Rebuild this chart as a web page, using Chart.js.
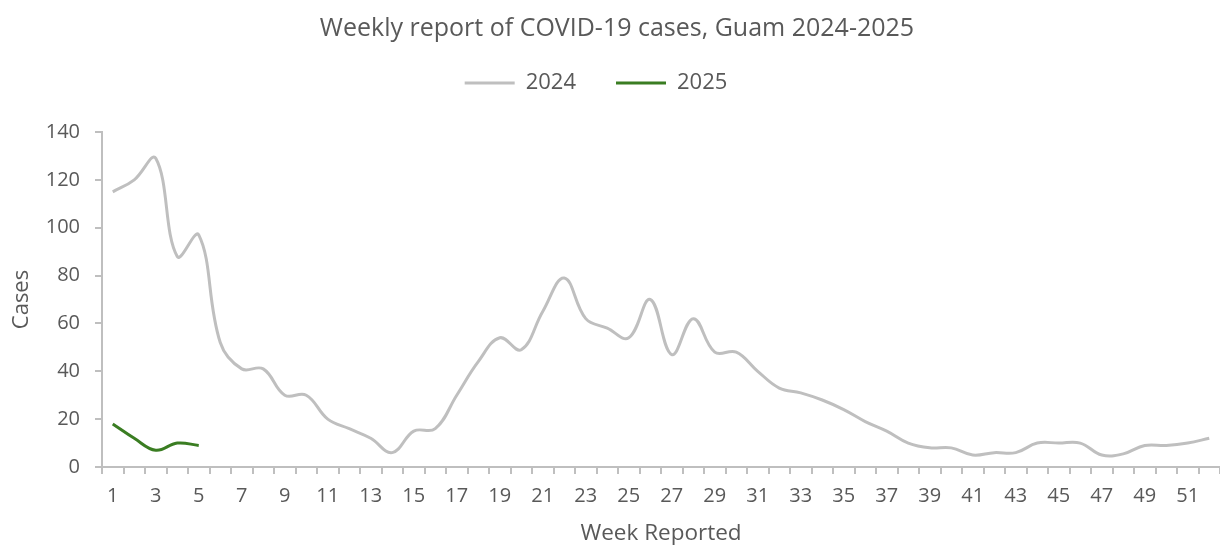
<!DOCTYPE html>
<html>
<head>
<meta charset="utf-8">
<script src="https://cdn.jsdelivr.net/npm/chart.js@4"></script>
<style>
  body { margin: 0; background: #ffffff; }
  #wrap { width: 1220px; height: 550px; }
</style>
</head>
<body>
<div id="wrap"><canvas id="covidChart"></canvas></div>
<script>
'use strict';
// data
var weeks = [];
for (var w = 1; w <= 52; w++) { weeks.push(String(w)); }
var cases2024 = [115, 120, 129, 88, 97, 52, 41, 41, 30, 30,
  20, 16, 12, 6, 15, 16, 30, 44, 54, 49,
  65, 79, 62, 58, 54, 70, 47, 62, 48, 48,
  40, 33, 31, 28, 24, 19, 15, 10, 8, 8,
  5, 6, 6, 10, 10, 10, 5, 5.5, 9, 9,
  10, 12];
var cases2025 = [18, 12, 7, 10, 9];
var yTicks = [0, 20, 40, 60, 80, 100, 120, 140];

var textColor = '#595959';
var axisColor = '#bfbfbf';
var fontName = "'Open Sans', 'Noto Sans', sans-serif";

Chart.defaults.font.family = fontName;
Chart.defaults.color = textColor;

// extra room under the legend, nudge legend left and title right
var legendMargin = {
  id: 'legendMargin',
  beforeInit: function(chart) {
    var origFit = chart.legend.fit;
    chart.legend.fit = function() {
      origFit.bind(chart.legend)();
      this.height += 28;
    };
  },
  afterLayout: function(chart) {
    chart.legend.left -= 14;
    chart.legend.right -= 14;
    chart.titleBlock.left += 7;
    chart.titleBlock.right += 7;
  }
};

var ctx = document.getElementById('covidChart');
var myChart = new Chart(ctx, {
  type: 'line',
  data: {
    labels: weeks,
    datasets: [{
      label: '2024',
      data: cases2024,
      borderColor: '#bfbfbf',
      backgroundColor: '#bfbfbf',
      borderWidth: 3,
      pointRadius: 0,
      pointStyle: 'line',
      tension: 0.4
    }, {
      label: '2025',
      data: cases2025,
      borderColor: '#3a7d22',
      backgroundColor: '#3a7d22',
      borderWidth: 3,
      pointRadius: 0,
      pointStyle: 'line',
      tension: 0.4
    }]
  },
  plugins: [legendMargin],
  options: {
    responsive: true,
    maintainAspectRatio: false,
    animation: false,
    layout: { padding: { left: 0, right: 0, top: 10, bottom: 0 } },
    plugins: {
      title: {
        display: true,
        text: 'Weekly report of COVID-19 cases, Guam 2024-2025',
        color: textColor,
        font: { size: 25, weight: 'normal' },
        padding: { top: 4, bottom: -12 }
      },
      legend: {
        display: true,
        position: 'top',
        labels: {
          usePointStyle: true,
          pointStyle: 'line',
          pointStyleWidth: 50,
          color: textColor,
          font: { size: 22 },
          padding: 40
        }
      },
      tooltip: { enabled: false }
    },
    scales: {
      x: {
        offset: true,
        border: { color: axisColor, width: 2 },
        grid: {
          offset: true,
          drawOnChartArea: false,
          drawTicks: true,
          tickLength: 7,
          color: axisColor,
          lineWidth: 2
        },
        ticks: {
          autoSkip: false,
          maxRotation: 0,
          padding: 10,
          color: textColor,
          font: { size: 20 },
          callback: function(value, index) {
            return index % 2 === 0 ? weeks[index] : '';
          }
        },
        title: {
          display: true,
          text: 'Week Reported',
          color: textColor,
          font: { size: 22.5 },
          padding: { top: 2, bottom: 3 }
        }
      },
      y: {
        min: 0,
        max: 140,
        afterBuildTicks: function(axis) {
          axis.ticks = yTicks.map(function(v) { return { value: v }; });
        },
        afterFit: function(axis) {
          axis.width = 102;
        },
        border: { color: axisColor, width: 2 },
        grid: {
          drawOnChartArea: false,
          drawTicks: true,
          tickLength: 7,
          color: axisColor,
          lineWidth: 2
        },
        ticks: {
          padding: 15,
          color: textColor,
          font: { size: 20 }
        },
        title: {
          display: true,
          text: 'Cases',
          color: textColor,
          font: { size: 22 },
          padding: { top: 9, bottom: 4 }
        }
      }
    }
  }
});
</script>
</body>
</html>
